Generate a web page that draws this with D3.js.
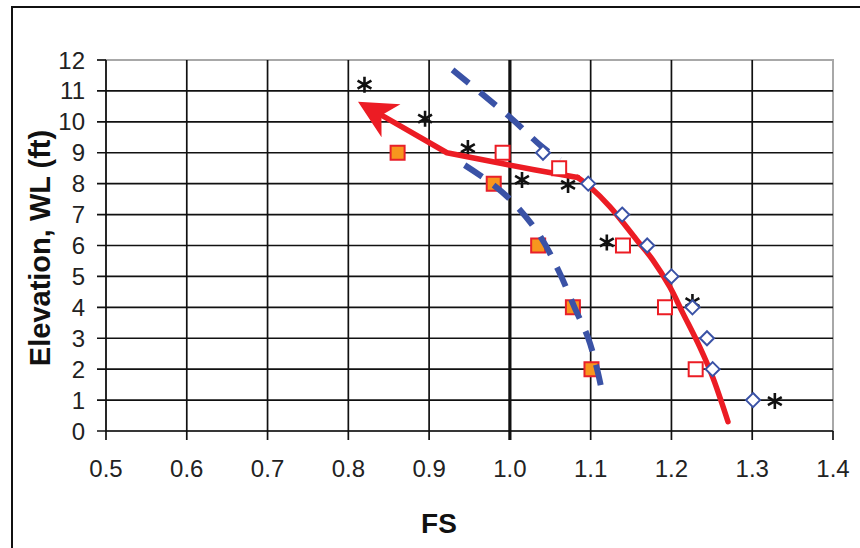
<!DOCTYPE html>
<html><head><meta charset="utf-8">
<script src="https://cdn.jsdelivr.net/npm/d3@7"></script>
<style>body{margin:0;background:#fff} text{font-family:"Liberation Sans",Arial,sans-serif}</style>
</head><body><svg id="c" width="860" height="548"></svg>
<script>
const xTickValues = [0.5,0.6,0.7,0.8,0.9,1.0,1.1,1.2,1.3,1.4];
const yTickValues = [0,1,2,3,4,5,6,7,8,9,10,11,12];
const xLabel = "FS";
const yLabel = "Elevation, WL (ft)";
// [FS, elevation]
const redCurveLower = [[1.270,0.30],[1.265,0.70],[1.251,1.75],[1.235,2.72],[1.214,3.82],[1.198,4.66],[1.177,5.53],[1.157,6.18],[1.124,7.25],[1.099,7.90],[1.084,8.20]];
const redCurveUpper = [[1.084,8.20],[1.030,8.45],[0.990,8.65],[0.922,9.00],[0.812,10.65]];
const blueDashUpper = [[0.929,11.68],[0.967,10.87],[1.004,10.06],[1.040,9.19],[1.062,8.77]];
const blueDashLower = [[0.944,8.60],[0.975,8.05],[1.000,7.50],[1.035,6.40],[1.060,5.20],[1.080,4.00],[1.097,3.00],[1.108,2.00],[1.115,1.15]];
const diamonds = [[1.041,9],[1.097,8],[1.139,7],[1.170,6],[1.200,5],[1.226,4],[1.244,3],[1.251,2],[1.301,1]];
const hollowSquares = [[0.991,9],[1.061,8.5],[1.140,6],[1.192,4],[1.230,2]];
const orangeSquares = [[0.861,9],[0.980,8],[1.035,6],[1.078,4],[1.101,2]];
const asterisks = [[0.820,11.2],[0.895,10.1],[0.948,9.15],[1.015,8.12],[1.072,7.96],[1.120,6.1],[1.226,4.17],[1.328,0.97]];

const svg = d3.select("#c");
const x = d3.scaleLinear().domain([0.5,1.4]).range([106,833]);
const y = d3.scaleLinear().domain([0,12]).range([431,60]);

// outer frame
svg.append("rect").attr("x",12).attr("y",7).attr("width",900).attr("height",600)
  .attr("fill","none").attr("stroke","#111").attr("stroke-width",2);

// plot border (top/right grey)
svg.append("rect").attr("x",x(0.5)).attr("y",y(12)).attr("width",x(1.4)-x(0.5)).attr("height",y(0)-y(12))
  .attr("fill","#fff").attr("stroke","#a8a8a8").attr("stroke-width",2);

const g = svg.append("g");
// horizontal gridlines
g.selectAll("line.h").data(yTickValues.filter(v=>v<12)).join("line")
  .attr("x1",x(0.5)-9).attr("x2",x(1.4)).attr("y1",d=>y(d)).attr("y2",d=>y(d))
  .attr("stroke","#111").attr("stroke-width",1.7);
g.append("line").attr("x1",x(0.5)-9).attr("x2",x(0.5)).attr("y1",y(12)).attr("y2",y(12))
  .attr("stroke","#111").attr("stroke-width",1.7);
// vertical gridlines
g.selectAll("line.v").data(xTickValues.filter(v=>v<1.4)).join("line")
  .attr("x1",d=>x(d)).attr("x2",d=>x(d)).attr("y1",y(12)).attr("y2",y(0)+9)
  .attr("stroke","#111").attr("stroke-width",d=>Math.abs(d-1.0)<1e-9?3.2:1.7);
g.append("line").attr("x1",x(1.4)).attr("x2",x(1.4)).attr("y1",y(0)).attr("y2",y(0)+9)
  .attr("stroke","#111").attr("stroke-width",1.7);

// tick labels
svg.selectAll("text.yt").data(yTickValues).join("text")
  .attr("x",85).attr("y",d=>y(d)+8.5).attr("text-anchor","end")
  .attr("font-size",24).attr("fill","#222").text(d=>d);
svg.selectAll("text.xt").data(xTickValues).join("text")
  .attr("x",d=>x(d)).attr("y",477).attr("text-anchor","middle")
  .attr("font-size",24).attr("fill","#222").text(d=>d3.format(".1f")(d));

// axis titles
svg.append("text").attr("x",439).attr("y",533).attr("text-anchor","middle")
  .attr("font-size",28).attr("font-weight","bold").attr("fill","#111").text(xLabel);
svg.append("text").attr("transform","translate(50,248) rotate(-90)").attr("text-anchor","middle")
  .attr("font-size",29).attr("font-weight","bold").attr("fill","#111").text(yLabel);

const sym = (type,size)=>d3.symbol().type(type).size(size)();

// orange squares
svg.selectAll("path.os").data(orangeSquares).join("path")
  .attr("transform",d=>`translate(${x(d[0])},${y(d[1])})`)
  .attr("d",sym(d3.symbolSquare,196)).attr("fill","#f7961e").attr("stroke","#e8202a").attr("stroke-width",2);

// asterisks
svg.selectAll("path.as").data(asterisks).join("path")
  .attr("transform",d=>`translate(${x(d[0])},${y(d[1])})`)
  .attr("d",sym(d3.symbolAsterisk,180)).attr("fill","none").attr("stroke","#111").attr("stroke-width",2.6);

// blue dashed lines
const lineC = d3.line().x(d=>x(d[0])).y(d=>y(d[1])).curve(d3.curveCatmullRom.alpha(0.5));
[blueDashUpper, blueDashLower].forEach(s=>{
  svg.append("path").attr("d",lineC(s)).attr("fill","none").attr("stroke","#3a52a6")
    .attr("stroke-width",6).attr("stroke-dasharray","21,14");
});

// red line with arrow
svg.append("path").attr("d",lineC(redCurveLower)).attr("fill","none").attr("stroke","#ec1c24")
  .attr("stroke-width",5.5).attr("stroke-linecap","round").attr("stroke-linejoin","round");
const n = redCurveUpper.length;
const tip = [x(redCurveUpper[n-1][0]), y(redCurveUpper[n-1][1])];
const prev = [x(redCurveUpper[n-2][0]), y(redCurveUpper[n-2][1])];
const dx = tip[0]-prev[0], dy = tip[1]-prev[1], L = Math.hypot(dx,dy);
const ux = dx/L, uy = dy/L, px = -uy, py = ux;
const AL = 38, AW = 19, notch = 27;
const upperPx = redCurveUpper.slice(0,n-1).map(d=>[x(d[0]),y(d[1])]);
upperPx.push([tip[0]-ux*notch, tip[1]-uy*notch]);
svg.append("path").attr("d",d3.line()(upperPx)).attr("fill","none").attr("stroke","#ec1c24")
  .attr("stroke-width",5.5).attr("stroke-linecap","round").attr("stroke-linejoin","round");
const head = [tip,
  [tip[0]-ux*AL+px*AW, tip[1]-uy*AL+py*AW],
  [tip[0]-ux*notch, tip[1]-uy*notch],
  [tip[0]-ux*AL-px*AW, tip[1]-uy*AL-py*AW]];
svg.append("path").attr("d",d3.line()(head)+"Z").attr("fill","#ec1c24");

// diamonds
svg.selectAll("path.dm").data(diamonds).join("path")
  .attr("transform",d=>`translate(${x(d[0])},${y(d[1])})`)
  .attr("d",sym(d3.symbolDiamond2,125)).attr("fill","#fff").attr("stroke","#3a52a6").attr("stroke-width",2);

// hollow squares
svg.selectAll("path.hs").data(hollowSquares).join("path")
  .attr("transform",d=>`translate(${x(d[0])},${y(d[1])})`)
  .attr("d",sym(d3.symbolSquare,196)).attr("fill","#fff").attr("stroke","#ec1c24").attr("stroke-width",2);
</script></body></html>
